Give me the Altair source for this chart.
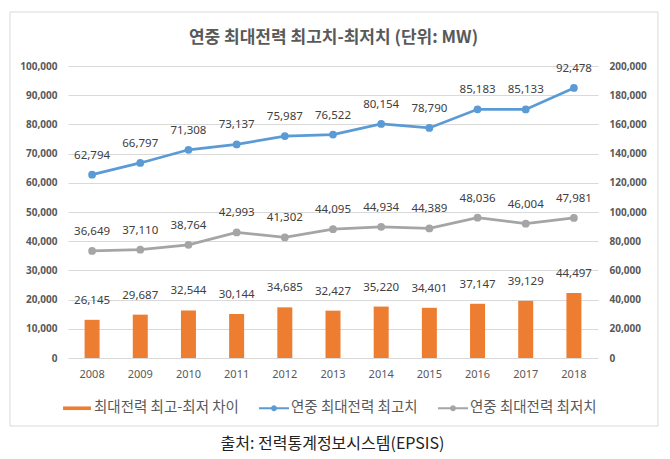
import altair as alt
import pandas as pd

# ---- data ----
years = ["2008", "2009", "2010", "2011", "2012", "2013", "2014", "2015", "2016", "2017", "2018"]
peak_max = [62794, 66797, 71308, 73137, 75987, 76522, 80154, 78790, 85183, 85133, 92478]
peak_min = [36649, 37110, 38764, 42993, 41302, 44095, 44934, 44389, 48036, 46004, 47981]
peak_gap = [26145, 29687, 32544, 30144, 34685, 32427, 35220, 34401, 37147, 39129, 44497]
series_names = ["최대전력 최고-최저 차이", "연중 최대전력 최고치", "연중 최대전력 최저치"]
series_colors = ["#ED7D31", "#5B9BD5", "#A5A5A5"]
left_ticks = list(range(0, 100001, 10000))
right_ticks = list(range(0, 200001, 20000))
title_text = "연중 최대전력 최고치-최저치 (단위: MW)"
source_text = "출처: 전력통계정보시스템(EPSIS)"

ORANGE, BLUE, GRAY = series_colors
W, H = 530, 292
NUM_FONT = "Noto Sans"
KR_FONT = "Noto Sans CJK KR"

df = pd.DataFrame({"year": years, "max": peak_max, "min": peak_min, "gap": peak_gap})
base = alt.Chart(df)

x_enc = alt.X(
    "year:O",
    scale=alt.Scale(type="band", paddingInner=0, paddingOuter=0),
    axis=alt.Axis(title=None, domain=False, ticks=False, tickSize=0, labelPadding=10,
                  labelAngle=0, labelFont=NUM_FONT, labelFontSize=11, labelColor="#595959"),
)

# ---- bars (right axis) ----
y_right = alt.Scale(domain=[0, 200000], nice=False, zero=True)
right_axis = alt.Axis(orient="right", values=right_ticks, format=",.0f", grid=False, domain=False,
                      ticks=False, tickSize=0, labelPadding=11, title=None, labelFont=NUM_FONT,
                      labelFontWeight="bold", labelFontSize=10, labelColor="#595959")
bars = base.mark_bar(size=15, color=ORANGE).encode(
    x=x_enc, y=alt.Y("gap:Q", scale=y_right, axis=right_axis))
bar_lbl = base.mark_text(dy=-19, fontSize=11.5, color="#404040", font=NUM_FONT).encode(
    x=x_enc, y=alt.Y("gap:Q", scale=y_right, axis=right_axis), text=alt.Text("gap:Q", format=",.0f"))
bar_layer = alt.layer(bars, bar_lbl)

# ---- lines (left axis) ----
y_left = alt.Scale(domain=[0, 100000], nice=False, zero=True)
left_axis = alt.Axis(orient="left", values=left_ticks, format=",.0f", grid=True, gridColor="#D9D9D9",
                     gridWidth=1, domain=False, ticks=False, tickSize=0, labelPadding=11, title=None,
                     labelFont=NUM_FONT, labelFontWeight="bold", labelFontSize=10, labelColor="#595959")


def series_layers(field, color):
    y_enc = alt.Y(f"{field}:Q", scale=y_left, axis=left_axis)
    ln = base.mark_line(color=color, strokeWidth=2.75).encode(x=x_enc, y=y_enc)
    pt = base.mark_point(filled=True, size=60, color=color, opacity=1).encode(x=x_enc, y=y_enc)
    lb = base.mark_text(dy=-19, fontSize=11.5, color="#404040", font=NUM_FONT).encode(
        x=x_enc, y=y_enc, text=alt.Text(f"{field}:Q", format=",.0f"))
    return [ln, pt, lb]


line_layer = alt.layer(*series_layers("max", BLUE), *series_layers("min", GRAY))

# ---- legend (from scale domain) ----
rect_path = "M-0.93,-0.12H0.93V0.12H-0.93Z"
line_path = ("M-1,-0.07H1V0.07H-1Z"
             "M-0.2,0A0.2,0.2,0,1,1,0.2,0A0.2,0.2,0,1,1,-0.2,0Z")
legend_props = dict(orient="none", legendX=-6, legendY=327, direction="horizontal", title=None,
                    symbolSize=900, symbolStrokeWidth=0, symbolOpacity=1, labelFont=KR_FONT,
                    labelFontSize=14.5, labelColor="#595959", labelOffset=2, columnPadding=20)
legend_df = pd.DataFrame({"series": series_names})
legend_layer = alt.Chart(legend_df).transform_filter("false").mark_point(filled=True, opacity=1).encode(
    color=alt.Color("series:N", scale=alt.Scale(domain=series_names, range=series_colors),
                    legend=alt.Legend(**legend_props)),
    shape=alt.Shape("series:N", scale=alt.Scale(domain=series_names,
                                                range=[rect_path, line_path, line_path]),
                    legend=alt.Legend(**legend_props)),
)

# ---- decorations ----
one = pd.DataFrame({"a": [0]})
frame = alt.Chart(one).mark_rect(fillOpacity=0, stroke="#D9D9D9", strokeWidth=1).encode(
    x=alt.value(-58), x2=alt.value(590), y=alt.value(-54), y2=alt.value(360))
title_mark = alt.Chart(pd.DataFrame({"t": [title_text]})).mark_text(
    font=KR_FONT, fontSize=17, fontWeight="bold", color="#595959", align="center", baseline="middle"
).encode(x=alt.value(265.5), y=alt.value(-28.5), text="t:N")
source_mark = alt.Chart(pd.DataFrame({"t": [source_text]})).mark_text(
    font=KR_FONT, fontSize=16, color="#222222", align="center", baseline="middle"
).encode(x=alt.value(264.5), y=alt.value(378), text="t:N")

chart = alt.layer(frame, bar_layer, line_layer, legend_layer, title_mark, source_mark).resolve_scale(
    y="independent"
).properties(
    width=W, height=H,
    autosize=alt.AutoSizeParams(type="none"),
    padding={"left": 60, "top": 58, "right": 64, "bottom": 100},
    background="white",
).configure_view(stroke=None)

chart.save("out.html", embed_options={"renderer": "svg", "actions": False})
